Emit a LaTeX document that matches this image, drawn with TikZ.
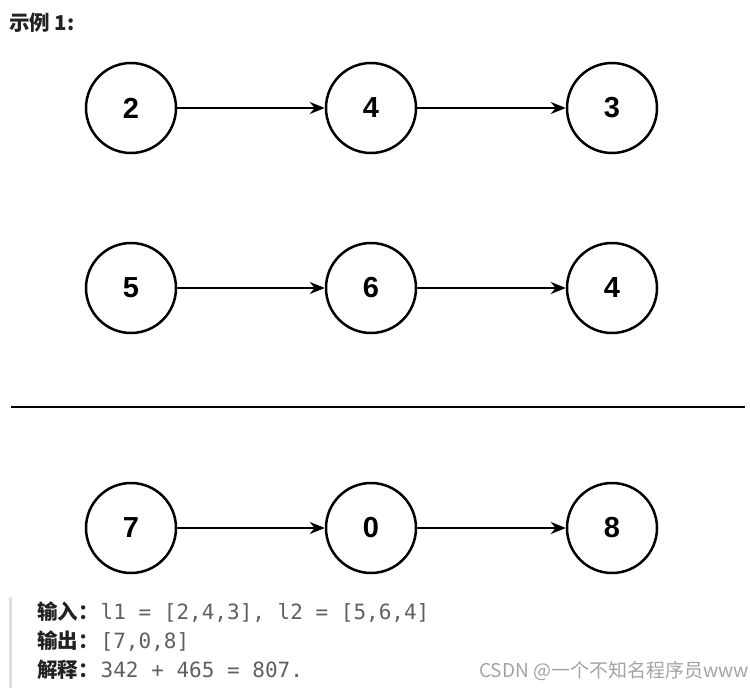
\documentclass[tikz,border=0pt]{standalone}
\usepackage{fontspec}
\setmainfont{Liberation Sans}
\setmonofont{DejaVu Sans Mono}
\newfontfamily\cjk{Noto Sans CJK SC}
\usetikzlibrary{arrows.meta,positioning}
\definecolor{Ink}{HTML}{000000}
\definecolor{Label}{HTML}{222222}
\definecolor{Code}{HTML}{5F5F5F}
\definecolor{Quote}{HTML}{DDDDDD}
\definecolor{Mark}{HTML}{A3A3A3}
\tikzset{digit/.style={circle,draw=Ink,line width=2.5pt,minimum size=90pt,inner sep=0pt,font=\fontsize{29}{29}\selectfont\bfseries},link/.style={-{Stealth[length=15pt,width=12pt]},line width=2.2pt,draw=Ink},codeline/.style={anchor=base west,inner sep=0pt,Label}}

\begin{document}
\begin{tikzpicture}[x=1pt,y=-1pt]
        \useasboundingbox (0,0) rectangle (750,693);
        \node[anchor=base west,inner sep=0pt,Label,font=\cjk\bfseries\fontsize{20.5}{20.5}\selectfont] (title) at (9,31){示例 1:};
        % first list
        \node[digit] (a1) at (131,108){2};
        \node[digit] (a2) at (371,108){4};
        \node[digit] (a3) at (612,108){3};
        \draw[link](a1)--(a2);
        \draw[link](a2)--(a3);
        % second list
        \node[digit] (b1) at (131,288){5};
        \node[digit] (b2) at (371,288){6};
        \node[digit] (b3) at (612,288){4};
        \draw[link](b1)--(b2);
        \draw[link](b2)--(b3);
        \draw[line width=2.8pt,Ink](11,407)--(745,407);
        % sum list
        \node[digit] (c1) at (131,528){7};
        \node[digit] (c2) at (371,528){0};
        \node[digit] (c3) at (612,528){8};
        \draw[link](c1)--(c2);
        \draw[link](c2)--(c3);
        % explanation block
        \fill[Quote](9,597) rectangle (12,688);
        \node[codeline] (input) at (37,619){{\cjk\bfseries\fontsize{20.5}{20.5}\selectfont 输入：}\hspace{2pt}{\ttfamily\fontsize{21}{21}\selectfont\color{Code}l1 = [2,4,3], l2 = [5,6,4]}};
        \node[codeline] (output) at (37,648){{\cjk\bfseries\fontsize{20.5}{20.5}\selectfont 输出：}\hspace{2pt}{\ttfamily\fontsize{21}{21}\selectfont\color{Code}[7,0,8]}};
        \node[codeline] (explain) at (37,677){{\cjk\bfseries\fontsize{20.5}{20.5}\selectfont 解释：}\hspace{2pt}{\ttfamily\fontsize{21}{21}\selectfont\color{Code}342 + 465 = 807.}};
        \node[anchor=base east,inner sep=0pt,Mark,font=\cjk\fontsize{19}{19}\selectfont] (mark) at (749,677){CSDN @一个不知名程序员www};
      \end{tikzpicture}
\end{document}
